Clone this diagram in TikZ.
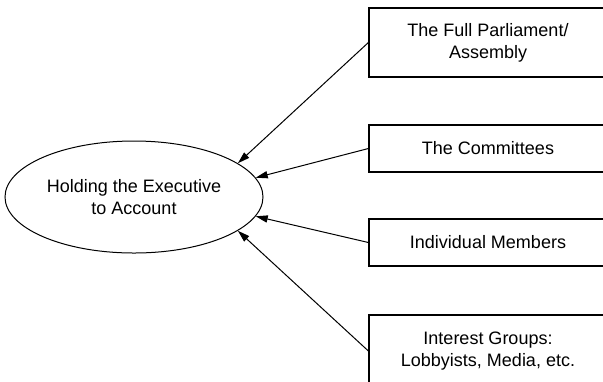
\documentclass[tikz,border=0pt]{standalone}
\usepackage{fontspec}
\setmainfont{Liberation Sans}
\usetikzlibrary{positioning, arrows.meta, shapes.geometric}

\begin{document}
\begin{tikzpicture}[x=0.5pt, y=-0.5pt,
    box/.style={draw, line width=0.6pt, minimum width=119pt, align=center,
        font=\fontsize{9}{11}\selectfont},
    goal/.style={draw, ellipse, line width=0.5pt, minimum width=129pt,
        minimum height=56pt, inner sep=0pt, align=center,
        font=\fontsize{9}{11}\selectfont},
    link/.style={line width=0.5pt, -{Triangle[length=6pt, width=3.6pt]}}]
    \path[use as bounding box, clip] (0,0) rectangle (603,381);

    % Central aim
    \node[goal] (aim) at (134,197) {Holding the Executive\\to Account};

    % Actors on the right
    \node[box, minimum height=34.5pt] (full) at (488,42.5) {The Full Parliament/\\Assembly};
    \node[box, minimum height=23.5pt] (comm) at (488,148.5) {The Committees};
    \node[box, minimum height=23.5pt] (memb) at (488,242.5) {Individual Members};
    \node[box, minimum height=36pt] (lobby) at (488,351) {Interest Groups:\\Lobbyists, Media, etc.};

    % Arrows into the ellipse
    \draw[link] (full.west) -- (aim.18);
    \draw[link] (comm.west) -- (aim.9);
    \draw[link] (memb.west) -- (aim.-9);
    \draw[link] (lobby.west) -- (aim.-18);
\end{tikzpicture}
\end{document}
